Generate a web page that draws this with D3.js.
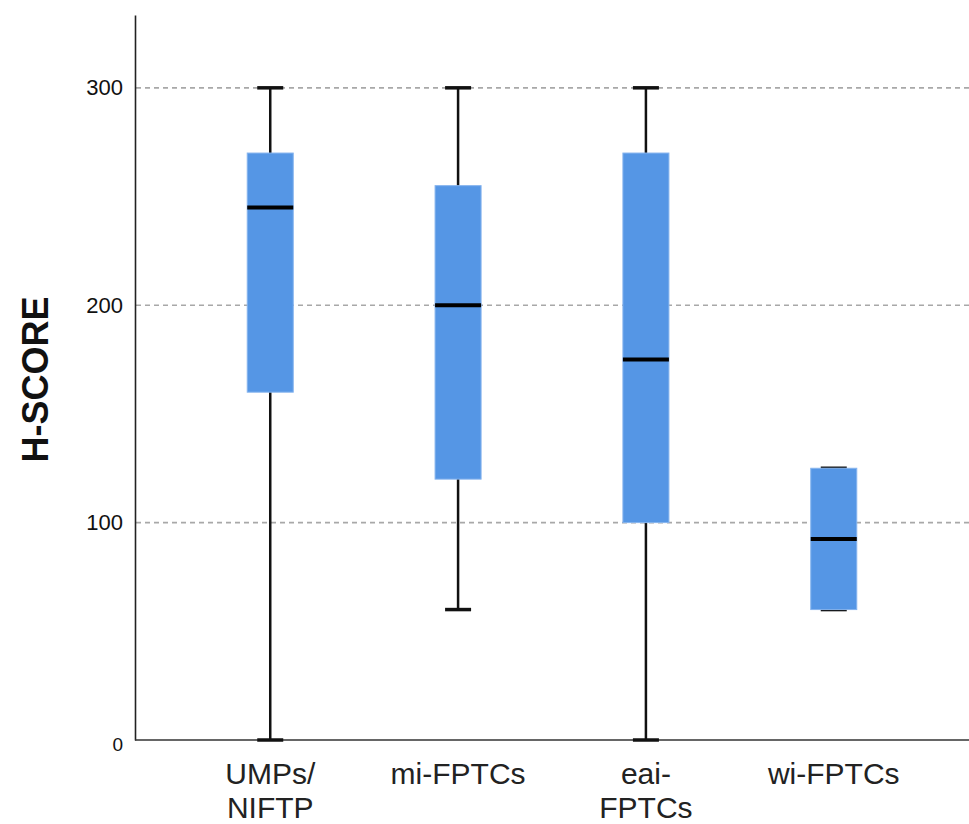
<!DOCTYPE html>
<html>
<head>
<meta charset="utf-8">
<script src="https://cdn.jsdelivr.net/npm/d3@7/dist/d3.min.js"></script>
<style>
  html, body { margin: 0; padding: 0; background: #ffffff; }
  svg { display: block; font-family: "Liberation Sans", Arial, sans-serif; }
</style>
</head>
<body>
<div id="chart"></div>
<script>
const CATEGORIES = [["UMPs/", "NIFTP"], ["mi-FPTCs"], ["eai-", "FPTCs"], ["wi-FPTCs"]];
const WHISKER_LOW = [0, 60, 0, 60];
const Q1 = [160, 120, 100, 60];
const MEDIAN = [245, 200, 175, 92.5];
const Q3 = [270, 255, 270, 125];
const WHISKER_HIGH = [300, 300, 300, 125];
const Y_TICKS = [0, 100, 200, 300];

const width = 969;
const height = 824;
const left = 135;
const bottom = 740;

const boxes = CATEGORIES.map((lines, i) => ({
  key: lines.join(" "),
  lines,
  low: WHISKER_LOW[i],
  q1: Q1[i],
  median: MEDIAN[i],
  q3: Q3[i],
  high: WHISKER_HIGH[i],
}));

const svg = d3
  .select("#chart")
  .append("svg")
  .attr("width", width)
  .attr("height", height);

const x = d3
  .scaleBand()
  .domain(boxes.map((d) => d.key))
  .range([left, width])
  .paddingInner(0)
  .paddingOuter(0.22);

const y = d3.scaleLinear().domain([0, 333.5]).range([bottom, 15]);

// grid lines
svg
  .append("g")
  .selectAll("line")
  .data(Y_TICKS.filter((t) => t > 0))
  .join("line")
  .attr("x1", left + 1)
  .attr("x2", width)
  .attr("y1", (d) => y(d))
  .attr("y2", (d) => y(d))
  .attr("stroke", "#a8a8a8")
  .attr("stroke-width", 1.6)
  .attr("stroke-dasharray", "5,4");

// y axis
const yAxis = svg
  .append("g")
  .attr("transform", `translate(${left},0)`)
  .call(d3.axisLeft(y).tickValues(Y_TICKS).tickSize(0).tickPadding(12));
yAxis.select(".domain").attr("stroke", "#222").attr("stroke-width", 1.6);
yAxis
  .selectAll(".tick text")
  .attr("font-size", (d) => (d === 0 ? 19 : 22))
  .attr("fill", "#111")
  .attr("dy", (d) => (d === 0 ? "0.55em" : "0.32em"));

// x axis line
svg
  .append("line")
  .attr("x1", left)
  .attr("x2", width)
  .attr("y1", y(0))
  .attr("y2", y(0))
  .attr("stroke", "#333")
  .attr("stroke-width", 1.6);

svg
  .append("text")
  .attr("transform", `translate(48, ${(y(0) + y(333.5)) / 2 + 2}) rotate(-90)`)
  .attr("text-anchor", "middle")
  .attr("font-size", 36)
  .attr("font-weight", "bold")
  .attr("fill", "#111")
  .text("H-SCORE");

const boxWidth = x.bandwidth() * 0.245;
const capWidth = 26;

const g = svg
  .append("g")
  .selectAll("g")
  .data(boxes)
  .join("g")
  .attr("transform", (d) => `translate(${x(d.key) + x.bandwidth() / 2},0)`);

g.append("line")
  .attr("x1", 0)
  .attr("x2", 0)
  .attr("y1", (d) => y(d.low))
  .attr("y2", (d) => y(d.high))
  .attr("stroke", "#111")
  .attr("stroke-width", 2.5);

g.selectAll(".cap")
  .data((d) => [d.low, d.high])
  .join("line")
  .attr("class", "cap")
  .attr("x1", -capWidth / 2)
  .attr("x2", capWidth / 2)
  .attr("y1", (v) => y(v))
  .attr("y2", (v) => y(v))
  .attr("stroke", "#111")
  .attr("stroke-width", 3.5);

g.append("rect")
  .attr("x", -boxWidth / 2)
  .attr("width", boxWidth)
  .attr("y", (d) => y(d.q3))
  .attr("height", (d) => y(d.q1) - y(d.q3))
  .attr("fill", "#5596e5")
  .attr("stroke", "#86b4ee")
  .attr("stroke-width", 1);

g.append("line")
  .attr("x1", -boxWidth / 2)
  .attr("x2", boxWidth / 2)
  .attr("y1", (d) => y(d.median))
  .attr("y2", (d) => y(d.median))
  .attr("stroke", "#000")
  .attr("stroke-width", 4);

g.append("text")
  .attr("text-anchor", "middle")
  .attr("font-size", 30)
  .attr("fill", "#222")
  .selectAll("tspan")
  .data((d) => d.lines)
  .join("tspan")
  .attr("x", 0)
  .attr("y", (line, i) => 784 + i * 34)
  .text((line) => line);
</script>
</body>
</html>
